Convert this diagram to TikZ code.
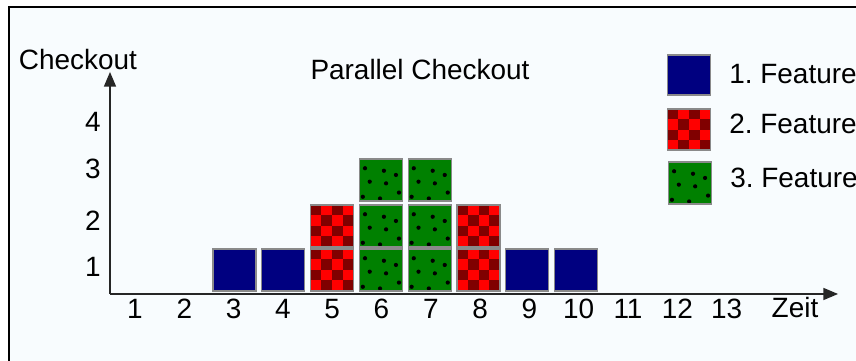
\documentclass[tikz,border=0pt]{standalone}
\usepackage{fontspec}
\setmainfont{Liberation Sans}
\usetikzlibrary{arrows}
\usetikzlibrary{calc}

\definecolor{hintergrund}{HTML}{F8FCFE}
\definecolor{dunkelblau}{HTML}{000080}
\definecolor{dunkelrot}{HTML}{800000}
\definecolor{gruen}{HTML}{008000}
\definecolor{rand}{HTML}{8A8A8A}

\tikzset{
	kasten/.style={draw=rand, line width=0.6pt, minimum width=0.86cm, minimum height=0.84cm, inner sep=0pt},
	% 1. Feature: einfarbig
	feat1/.style={kasten, fill=dunkelblau},
	% 2. Feature: Schachbrett
	feat2/.style={kasten, fill=red, path picture={
		\foreach \i in {0,...,3}
			\foreach \j in {0,...,3} {
				\pgfmathparse{int(mod(\i+\j,2))}
				\ifnum\pgfmathresult=0
					\fill[dunkelrot] ($(path picture bounding box.north west)+(\i*0.215cm,-\j*0.21cm)$) rectangle ++(0.215cm,-0.21cm);
				\fi
			}
	}},
	% 3. Feature: gepunktet
	feat3/.style={kasten, fill=gruen, path picture={
		\foreach \px/\py in {0.13/0.78,0.57/0.72,0.24/0.46,0.62/0.42,0.92/0.2,0.08/0.1,0.48/0.06,0.85/0.62}
			\fill[black] ($(path picture bounding box.south west)+(\px*0.86cm,\py*0.84cm)$) circle (1.2pt);
	}},
	beschriftung/.style={font=\fontsize{15.9}{19}\selectfont, inner sep=0pt}
}

\begin{document}
\frenchspacing
\begin{tikzpicture}[x=0.02cm, y=0.02cm]
	%Rahmen
	\useasboundingbox (0,0) rectangle (856,361);
	\fill[hintergrund] (9,0) rectangle (856,354);
	\draw[line width=1.2pt] (9,0) -- (9,354) -- (856,354);
	%
	%Achsen
	\coordinate (ursprung) at (110,67);
	\coordinate (yende) at (110,289);
	\coordinate (xende) at (838,67);
	\draw[-triangle 45, line width=0.9pt, black!85] (ursprung) -- (yende);
	\draw[-triangle 45, line width=0.9pt, black!85] (ursprung) -- (xende);
	%
	%Beschriftung
	\node[beschriftung] (checkout) at (78,301) {Checkout};
	\node[beschriftung] (zeit) at (795,53) {Zeit};
	\node[beschriftung] (titel) at (420,291) {Parallel Checkout};
	\foreach \k in {1,...,13}
		\node[beschriftung] (x\k) at ({135+(\k-1)*49.3},52) {\k};
	\foreach \r/\yy in {1/94,2/140,3/192,4/239}
		\node[beschriftung] (y\r) at (93,\yy) {\r};
	%
	%Kaesten Zeile 1
	\foreach \c/\art in {3/1,4/1,5/2,6/3,7/3,8/2,9/1,10/1}
		\node[feat\art] (k\c-1) at ({234.5+(\c-3)*48.8},91) {};
	%Kaesten Zeile 2
	\foreach \c/\art in {5/2,6/3,7/3,8/2}
		\node[feat\art] (k\c-2) at ({234.5+(\c-3)*48.8},135) {};
	%Kaesten Zeile 3
	\foreach \c in {6,7}
		\node[feat3] (k\c-3) at ({234.5+(\c-3)*48.8},181) {};
	%
	%Legende
	\node[feat1, minimum height=0.8cm] (leg1) at (689,286) {};
	\node[beschriftung, anchor=west] (leg1text) at (729,286.5) {1. Feature};
	\node[feat2, minimum height=0.82cm] (leg2) at (689,231.5) {};
	\node[beschriftung, anchor=west] (leg2text) at (729,237.5) {2. Feature};
	\node[feat3] (leg3) at (690,178) {};
	\node[beschriftung, anchor=west] (leg3text) at (730,183) {3. Feature};
\end{tikzpicture}
\end{document}
